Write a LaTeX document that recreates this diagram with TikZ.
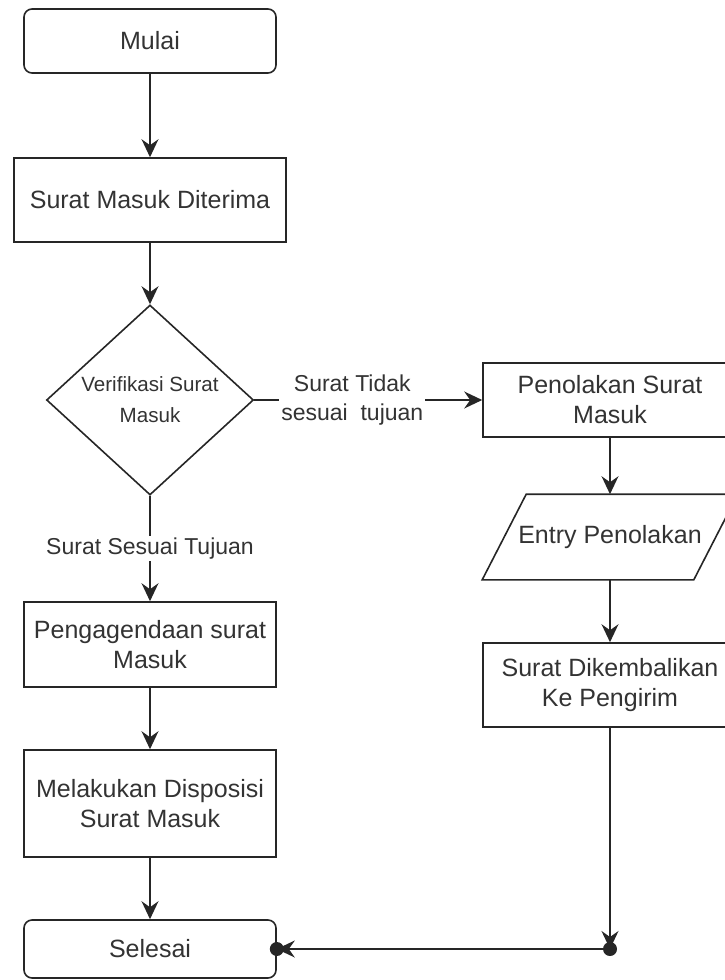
\documentclass[tikz,border=0pt]{standalone}
\usepackage{fontspec}
\setmainfont{Liberation Sans}
\usepackage{tikz}
\usetikzlibrary{shapes.geometric,arrows.meta,positioning}

\begin{document}
\begin{tikzpicture}[x=0.5pt, y=-0.5pt, line width=0.8pt,
    every node/.style={text=black!80, align=center, inner sep=2pt,
        font=\fontsize{12.5}{15}\selectfont},
    terminal/.style={draw=black!85, rounded corners=4pt, minimum width=126pt, minimum height=32pt},
    process/.style={draw=black!85, minimum width=126pt, minimum height=42.5pt},
    decision/.style={draw=black!85, diamond, minimum width=103.5pt, minimum height=95pt,
        inner sep=0pt, font=\fontsize{10.3}{15.5}\selectfont},
    io/.style={minimum width=105pt, minimum height=42pt},
    lbl/.style={fill=white, inner sep=1pt, font=\fontsize{11.5}{14.5}\selectfont},
    flow/.style={draw=black!85, -{Stealth[length=9pt, width=8.5pt, inset=3pt]}}]

    % Frame
    \useasboundingbox (0,0) rectangle (724,980);

    % Left column
    \node[terminal] (mulai) at (150,41) {Mulai};
    \node[process, minimum width=136pt, minimum height=42pt] (terima) at (150,200) {Surat Masuk Diterima};
    \node[decision] (verif) at (150,400) {Verifikasi Surat\\Masuk};
    \node[process] (agenda) at (150,644.5) {Pengagendaan surat\\Masuk};
    \node[process, minimum height=53.5pt] (dispo) at (150,803.5) {Melakukan Disposisi\\Surat Masuk};
    \node[terminal, minimum height=29pt] (selesai) at (150,949) {Selesai};

    % Right column
    \node[process, minimum width=127pt, minimum height=37pt] (tolak) at (610,400) {Penolakan Surat\\Masuk};
    \node[io] (entry) at (610,537) {Entry Penolakan};
    \draw[black!85] ([xshift=11pt]entry.north west) -- ([xshift=11pt]entry.north east)
        -- ([xshift=-11pt]entry.south east) -- ([xshift=-11pt]entry.south west) -- cycle;
    \node[process, minimum width=127pt, minimum height=42pt] (kembali) at (610,685) {Surat Dikembalikan\\Ke Pengirim};

    % Connectors
    \draw[flow] (mulai) -- (terima);
    \draw[flow] (terima) -- (verif);
    \draw[flow] (verif) -- node[lbl] {Surat Sesuai Tujuan} (agenda);
    \draw[flow] (agenda) -- (dispo);
    \draw[flow] (dispo) -- (selesai);
    \draw[flow] (verif) -- node[lbl, pos=0.43] {Surat Tidak\\sesuai\ \ tujuan} (tolak);
    \draw[flow] (tolak) -- (entry);
    \draw[flow] (entry) -- (kembali);

    % Return path to Selesai
    \coordinate (belok) at (kembali |- selesai);
    \draw[flow] (kembali) -- (belok);
    \draw[flow] (belok) -- (selesai);
    \fill[black!85] (belok) circle (3.5pt);
    \fill[black!85] (selesai.east) circle (3.5pt);
\end{tikzpicture}
\end{document}
